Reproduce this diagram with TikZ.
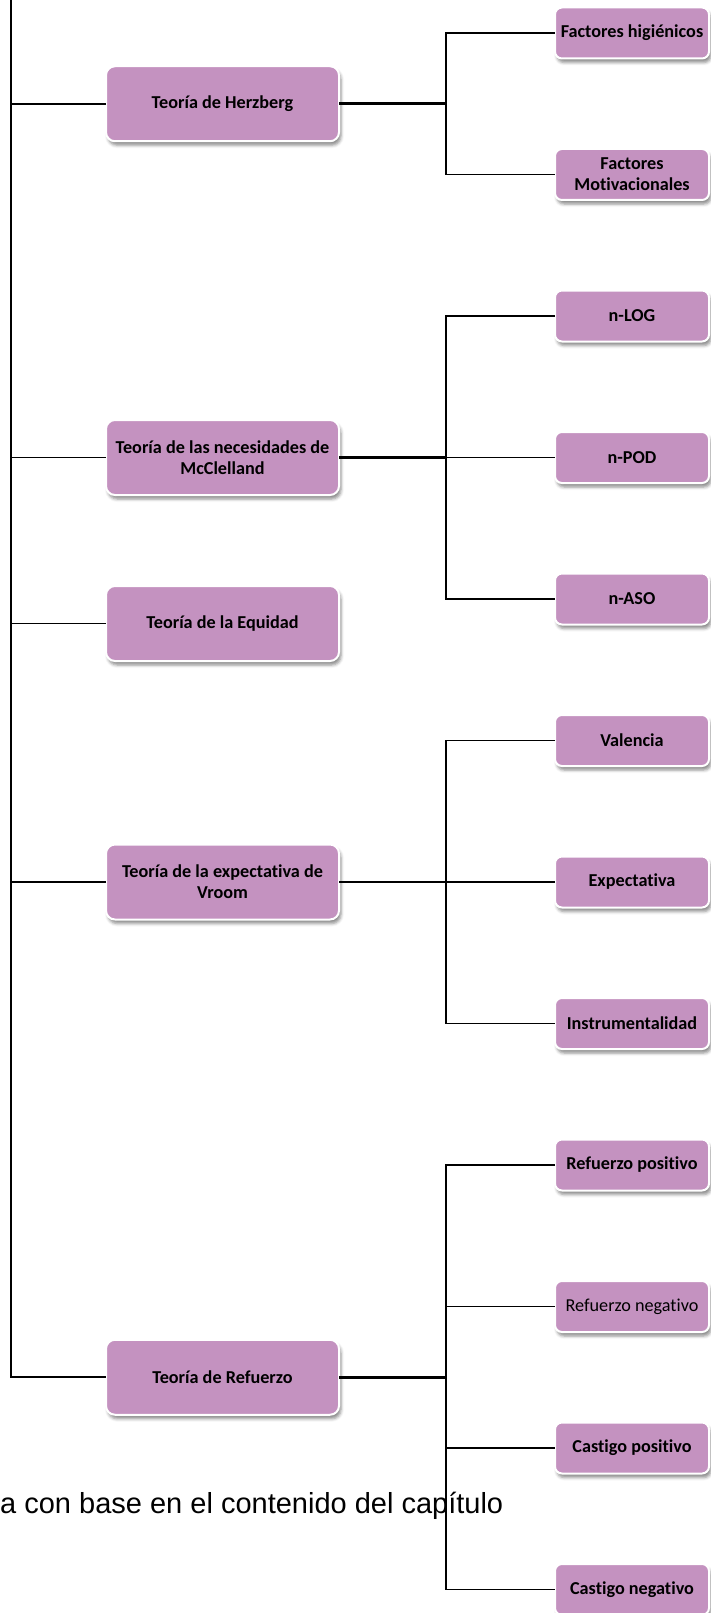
\documentclass[tikz,border=0pt]{standalone}
\usepackage{fontspec}
\setmainfont{Carlito}[Ligatures=NoCommon]
\newfontfamily\sourcefont{Liberation Sans}
\usetikzlibrary{positioning, shadows.blur}
\definecolor{mauve}{RGB}{196,146,192}

\begin{document}
\begin{tikzpicture}[
    x=1pt, y=-1pt,
    theory/.style={draw=white, line width=2pt, fill=mauve, rounded corners=9pt, outer sep=0pt,
      minimum width=233pt, minimum height=75pt, inner sep=2pt, align=center,
      font=\bfseries\fontsize{18.2}{21}\selectfont,
      blur shadow={shadow xshift=2pt, shadow yshift=-4pt, shadow blur radius=3pt, shadow opacity=45}},
    factor/.style={theory, rounded corners=7pt, minimum width=154pt, minimum height=51pt},
    spine/.style={line width=2.2pt},
    link/.style={line width=1.8pt},
    trunk/.style={line width=2.6pt},
    branch/.style={line width=1.8pt}
  ]
    \useasboundingbox (0,0) rectangle (710,1613);
    \node[anchor=base west, inner sep=0pt, font=\sourcefont\fontsize{29}{33}\selectfont] (src) at (0,1513) {a con base en el contenido del capítulo};

    \node[factor] (hig) at (632,33) {Factores higiénicos};
    \node[factor, below=90.5pt of hig] (mot) {Factores\\Motivacionales};
    \node[factor, below=90.5pt of mot] (nlog) {n-LOG};
    \node[factor, below=90.5pt of nlog] (npod) {n-POD};
    \node[factor, below=90.5pt of npod] (naso) {n-ASO};
    \node[factor, below=90.5pt of naso] (val) {Valencia};
    \node[factor, below=90.5pt of val] (expt) {Expectativa};
    \node[factor, below=90.5pt of expt] (instr) {Instrumentalidad};
    \node[factor, below=90.5pt of instr] (rpos) {Refuerzo positivo};
    \node[factor, below=90.5pt of rpos] (rneg) {\mdseries Refuerzo negativo};
    \node[factor, below=90.5pt of rneg] (cpos) {Castigo positivo};
    \node[factor, below=90.5pt of cpos] (cneg) {Castigo negativo};

    \node[theory, left=216pt of hig.west, yshift=-70.75pt] (herz) {Teoría de Herzberg};
    \node[theory, left=216pt of npod] (mccl) {Teoría de las necesidades de\\McClelland};
    \node[theory, below=91pt of mccl] (equi) {Teoría de la Equidad};
    \node[theory, left=216pt of expt] (vroom) {Teoría de la expectativa de\\Vroom};
    \node[theory, left=216pt of rneg.west, yshift=-70.75pt] (refz) {Teoría de Refuerzo};

    % left spine
    \coordinate (top) at (11,0);
    \draw[spine] (top) |- (refz.west);
    \draw[link] (herz.west) -- (herz.west -| top);
    \draw[link] (mccl.west) -- (mccl.west -| top);
    \draw[link] (equi.west) -- (equi.west -| top);
    \draw[link] (vroom.west) -- (vroom.west -| top);

    % buses on the right
    \coordinate (bus) at (446,0);
    \draw[trunk] (herz.east) -- (herz.east -| bus);
    \draw[branch] (hig.west) -- (hig.west -| bus) |- (mot.west);

    \draw[trunk] (mccl.east) -- (mccl.east -| bus);
    \draw[branch] (nlog.west) -- (nlog.west -| bus) |- (naso.west);
    \draw[branch] (npod.west) -- (npod.west -| bus);

    \draw[trunk] (vroom.east) -- (vroom.east -| bus);
    \draw[branch] (val.west) -- (val.west -| bus) |- (instr.west);
    \draw[branch] (expt.west) -- (expt.west -| bus);

    \draw[trunk] (refz.east) -- (refz.east -| bus);
    \draw[branch] (rpos.west) -- (rpos.west -| bus) |- (cneg.west);
    \draw[branch] (rneg.west) -- (rneg.west -| bus);
    \draw[branch] (cpos.west) -- (cpos.west -| bus);
  \end{tikzpicture}
\end{document}
